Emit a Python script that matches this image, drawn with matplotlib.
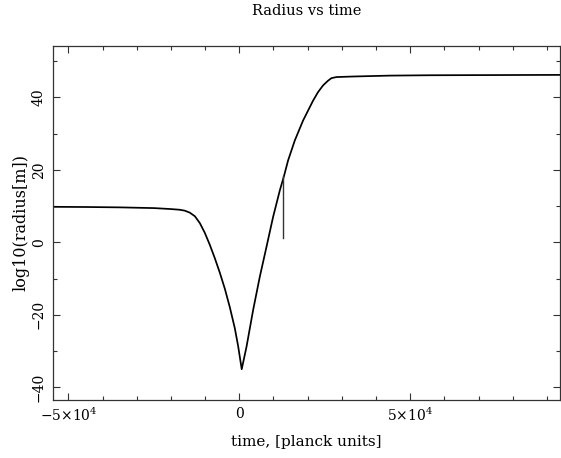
import matplotlib
matplotlib.use("Agg")
import matplotlib.pyplot as plt
from matplotlib.ticker import MultipleLocator, FixedLocator

plt.rcParams['font.family'] = ['DejaVu Serif']
plt.rcParams['mathtext.fontset'] = 'dejavuserif'

# Curve (time in planck units, log10 radius in m)
time = [-54600, -45000, -35000, -25000, -20300, -17500, -16000, -14500, -13000,
        -11550, -10090, -8630, -7160, -5700, -4240, -2780, -1320, -350, 700,
        2105, 4035, 5990, 7950, 9880, 11840, 13100, 14270, 16230, 18650,
        21580, 23000, 24500, 25960, 26960, 28420, 33190, 44010, 55700, 75000, 93800]
log_radius = [9.8, 9.75, 9.65, 9.45, 9.2, 9.0, 8.75, 8.2, 7.2,
              5.3, 2.6, -0.7, -4.4, -8.4, -12.8, -17.9, -23.7, -28.6, -35.0,
              -28.8, -18.7, -9.5, -1.24, 7.0, 14.3, 18.4, 22.6, 28.1, 33.6,
              39.1, 41.4, 43.3, 44.6, 45.3, 45.6, 45.75, 46.0, 46.1, 46.15, 46.2]

# Vertical marker segment
marker_time = [12920, 12920]
marker_log_radius = [1.3, 18.4]

xticks = [-50000, 0, 50000]
xticklabels = [r'$-5{\times}10^4$', '0', r'$5{\times}10^4$']
yticks = [-40, -20, 0, 20, 40]
yticklabels = ['\u221240', '\u221220', '0', '20', '40']

fig = plt.figure(figsize=(5.61, 4.58), dpi=100)
ax = fig.add_axes([0.094, 0.1266, 0.904, 0.774])

ax.plot(time, log_radius, color='black', lw=1.25, solid_joinstyle='round')
ax.plot(marker_time, marker_log_radius, color='#333333', lw=1.0)

ax.set_xlim(-54600, 93800)
ax.set_ylim(-43.5, 54.3)

ax.xaxis.set_major_locator(FixedLocator(xticks))
ax.set_xticklabels(xticklabels)
ax.xaxis.set_minor_locator(MultipleLocator(10000))
ax.yaxis.set_major_locator(FixedLocator(yticks))
ax.set_yticklabels(yticklabels, rotation=90, va='center')
ax.yaxis.set_minor_locator(MultipleLocator(10))

ax.tick_params(which='both', direction='in', top=True, right=True,
               labelsize=10, color='#333333', width=0.8)
ax.tick_params(which='major', length=5, pad=5)
ax.tick_params(which='minor', length=3)
for s in ax.spines.values():
    s.set_linewidth(0.9)
    s.set_color('#333333')

ax.set_title('Radius vs time', fontsize=10.5, pad=22)
ax.set_xlabel('time, [planck units]', fontsize=11, labelpad=8)
ax.set_ylabel('log10(radius[m])', fontsize=11.5, labelpad=2)

fig.savefig('out.png', dpi=100)
